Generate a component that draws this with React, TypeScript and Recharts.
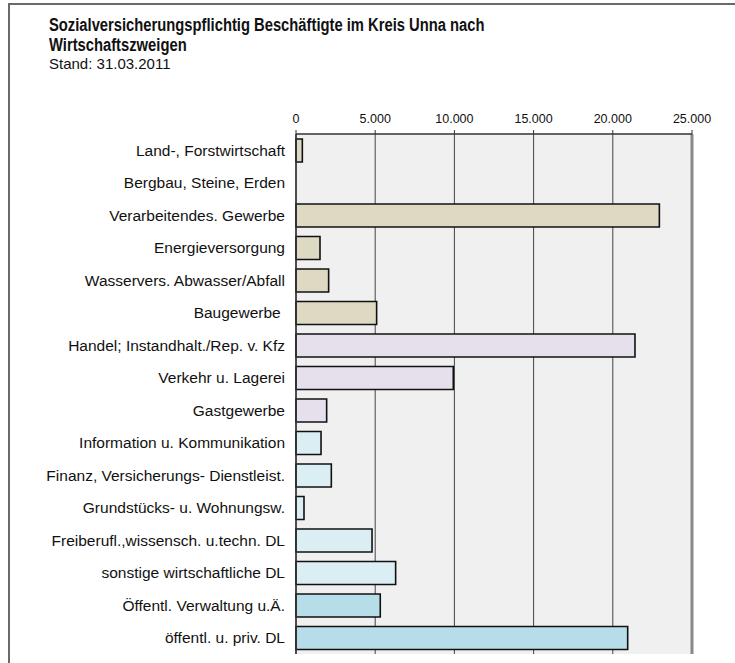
import { BarChart, Bar, XAxis, YAxis, CartesianGrid, Cell, ReferenceLine } from 'recharts'

const TITLE = 'Sozialversicherungspflichtig Beschäftigte im Kreis Unna nach Wirtschaftszweigen'
const SUBTITLE = 'Stand: 31.03.2011'

const SECTORS = [
  'Land-, Forstwirtschaft',
  'Bergbau, Steine, Erden',
  'Verarbeitendes. Gewerbe',
  'Energieversorgung',
  'Wasservers. Abwasser/Abfall',
  'Baugewerbe\u00A0',
  'Handel; Instandhalt./Rep. v. Kfz',
  'Verkehr u. Lagerei',
  'Gastgewerbe',
  'Information u. Kommunikation',
  'Finanz, Versicherungs- Dienstleist.',
  'Grundstücks- u. Wohnungsw.',
  'Freiberufl.,wissensch. u.techn. DL',
  'sonstige wirtschaftliche DL',
  'Öffentl. Verwaltung u.Ä.',
  'öffentl. u. priv. DL',
]

const EMPLOYEES = [400, 0, 22940, 1515, 2060, 5090, 21400, 9930, 1935, 1580, 2230, 505, 4800, 6290, 5320, 20940]

const X_TICKS = [0, 5000, 10000, 15000, 20000, 25000]

const BEIGE = '#ddd9c3'
const LILAC = '#e5e0ec'
const PALE_BLUE = '#dbeef3'
const BLUE = '#b7dee8'
const FILLS = [
  BEIGE, BEIGE, BEIGE, BEIGE, BEIGE, BEIGE,
  LILAC, LILAC, LILAC,
  PALE_BLUE, PALE_BLUE, PALE_BLUE, PALE_BLUE, PALE_BLUE,
  BLUE, BLUE,
]

const data = SECTORS.map((name, i) => ({ name, value: EMPLOYEES[i] }))

const fmt = (v: number) => String(v).replace(/\B(?=(\d{3})+(?!\d))/g, '.')

const FONT = '"Liberation Sans", Arial, sans-serif'

export default function App() {
  return (
    <div style={{ position: 'absolute', left: 0, top: 0, width: 735, height: 663, overflow: 'hidden', background: '#fff', fontFamily: FONT }}>
      <div style={{ position: 'absolute', left: 8, top: 3, width: 800, height: 800, borderLeft: '2px solid #6a6a6a', borderTop: '2px solid #6a6a6a' }} />
      {/* title is set in a condensed face in the original, emulate it */}
      <div style={{ position: 'absolute', left: 49, top: 15, width: 700, fontSize: 18, lineHeight: '20px', fontWeight: 'bold', color: '#111', transform: 'scaleX(0.82)', transformOrigin: 'left top' }}>
        Sozialversicherungspflichtig Beschäftigte im Kreis Unna nach<br />Wirtschaftszweigen
      </div>
      <div style={{ position: 'absolute', left: 49, top: 56, fontSize: 15, lineHeight: '16px', color: '#111' }}>
        {SUBTITLE}
      </div>
      <div style={{ position: 'absolute', left: 0, top: 0 }} title={TITLE}>
        <BarChart width={735} height={663} data={data} layout="vertical" margin={{ top: 104, right: 43, bottom: 9, left: 0 }} barSize={23}>
          <CartesianGrid horizontal={false} fill="#f0f0f0" stroke="#444" strokeWidth={1} />
          <XAxis
            type="number"
            orientation="top"
            domain={[0, 25000]}
            ticks={X_TICKS}
            tickFormatter={fmt}
            height={30}
            tickSize={4}
            tickMargin={7}
            axisLine={{ stroke: '#333', strokeWidth: 1.5 }}
            tickLine={{ stroke: '#333' }}
            tick={{ fill: '#111', fontSize: 12.5, fontFamily: FONT }}
          />
          <XAxis
            xAxisId="b"
            type="number"
            orientation="bottom"
            domain={[0, 25000]}
            height={0}
            tick={false}
            tickLine={false}
            axisLine={{ stroke: '#888', strokeWidth: 3 }}
          />
          <YAxis
            type="category"
            dataKey="name"
            width={296}
            tickLine={false}
            tickSize={0}
            tickMargin={11}
            interval={0}
            axisLine={{ stroke: '#333', strokeWidth: 1.5 }}
            tick={{ fill: '#111', fontSize: 15.5, fontFamily: FONT }}
          />
          <ReferenceLine x={25000} stroke="#888" strokeWidth={3} />
          <Bar dataKey="value" stroke="#111" strokeWidth={1.6} isAnimationActive={false}>
            {data.map((_, i) => <Cell key={i} fill={FILLS[i]} />)}
          </Bar>
        </BarChart>
      </div>
    </div>
  )
}
